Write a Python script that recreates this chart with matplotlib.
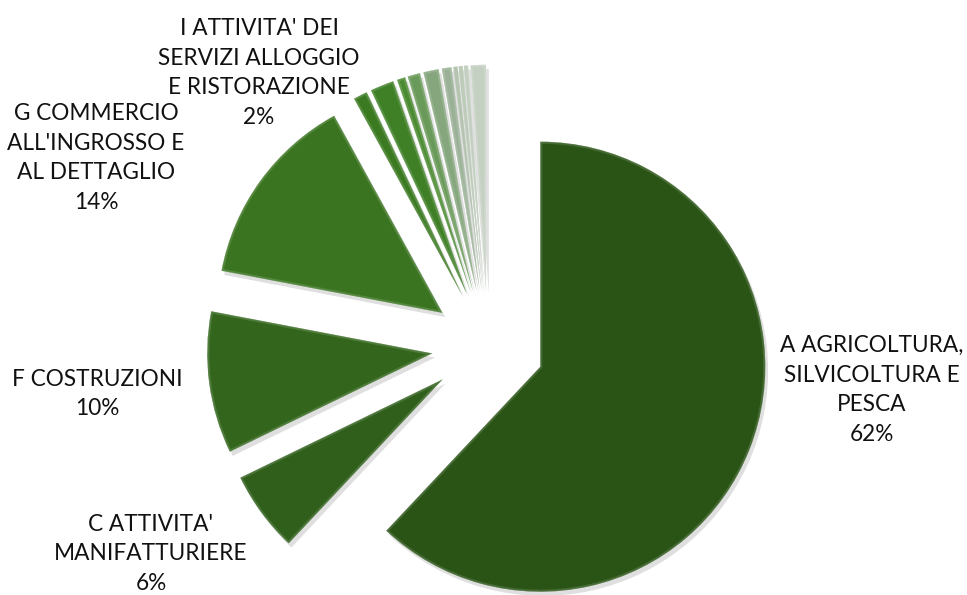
import matplotlib.pyplot as plt
import matplotlib.patheffects as pe
from matplotlib.patches import Wedge
from matplotlib.colors import to_rgb

# Ripartizione per settore di attività (quote percentuali)
sectors = ["A", "C", "F", "G", "H", "I", "J", "K", "L", "M", "N", "P", "Q", "R"]
shares = [62.0, 5.8, 10.2, 14.0, 1.0, 1.7, 0.6, 0.9, 1.1, 0.7, 0.3, 0.3, 0.3, 1.1]
names = {
    "A": "A AGRICOLTURA,\nSILVICOLTURA E\nPESCA",
    "C": "C ATTIVITA'\nMANIFATTURIERE",
    "F": "F COSTRUZIONI",
    "G": "G COMMERCIO\nALL'INGROSSO E\nAL DETTAGLIO",
    "I": "I ATTIVITA' DEI\nSERVIZI ALLOGGIO\nE RISTORAZIONE",
}
colors = ["#2a5416", "#2f5f1a", "#33661c", "#3a7420", "#3c7a22", "#3f8027",
          "#4a8a30", "#6a9a5a", "#86a67e", "#9bb197", "#a9bba5", "#b3c3af",
          "#bac8b7", "#c4d0c2"]

# posizione delle etichette (pixel, centro del blocco di testo)
label_pos = {"A": (872, 390), "C": (151, 554), "F": (97, 394),
             "G": (96, 158), "I": (259, 73)}

W, H = 967, 595
cx, cy, R = 488, 346, 225


def lighten(c, k=0.3):
    r, g, b = to_rgb(c)
    return (r + (1 - r) * k, g + (1 - g) * k, b + (1 - b) * k)


fig = plt.figure(figsize=(W / 100, H / 100), dpi=100)
ax = fig.add_axes([0, 0, 1, 1])

wedges, _ = ax.pie(shares, colors=colors, startangle=90, counterclock=False,
                   explode=[0.25] * len(shares), radius=1.0,
                   wedgeprops=dict(linewidth=0.8, edgecolor="#ffffff30"))
ax.set_xlim(-cx / R, (W - cx) / R)
ax.set_ylim(-(H - cy) / R, cy / R)
ax.set_aspect("equal")
ax.axis("off")

# ombra morbida e bordo interno più chiaro (effetto smussato)
for w, c in zip(wedges, colors):
    w.set_path_effects([
        pe.SimplePatchShadow(offset=(2, -3), shadow_rgbFace="#808080", alpha=0.25),
        pe.Normal(),
    ])
    rim = Wedge(w.center, w.r, w.theta1, w.theta2, facecolor="none",
                edgecolor=lighten(c), linewidth=3, alpha=0.45)
    ax.add_patch(rim)
    rim.set_clip_path(w)

for s, v in zip(sectors, shares):
    if s not in names:
        continue
    px, py = label_pos[s]
    ax.text((px - cx) / R, (cy - py) / R, f"{names[s]}\n{round(v)}%",
            ha="center", va="center", fontsize=16.3, family="Lato",
            color="#111111", linespacing=1.52)

fig.savefig("out.png", dpi=100, facecolor="white")
